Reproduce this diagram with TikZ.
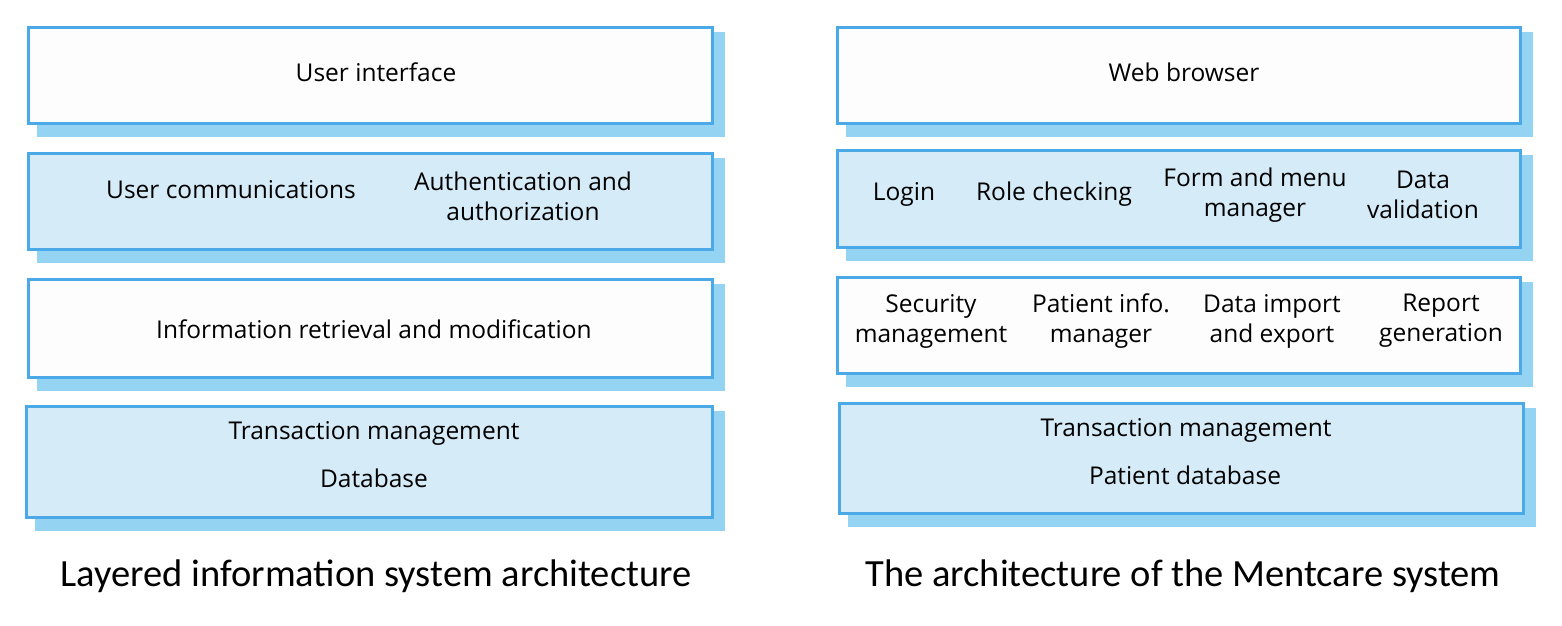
\documentclass[tikz,border=0pt]{standalone}
\usepackage{fontspec}
\setmainfont{Open Sans}
\newfontfamily\capfont{Carlito}
\usetikzlibrary{backgrounds}
\definecolor{bordc}{HTML}{4BA9E8}
\definecolor{shadc}{HTML}{94D3F1}
\definecolor{lightc}{HTML}{D5ECF8}
\definecolor{whitec}{HTML}{FDFDFD}
\tikzset{
  x=1bp, y=-1bp,
  layerbox/.style={draw=bordc, line width=2.6bp, anchor=north west, inner sep=0pt},
  wbox/.style={layerbox, fill=whitec},
  lbox/.style={layerbox, fill=lightc},
  lbl/.style={font=\fontsize{24.5bp}{30bp}\selectfont, align=center, inner sep=0pt, text=black},
  captext/.style={font=\capfont\fontsize{38.5bp}{44bp}\selectfont, inner sep=0pt, text=black},
  shadowfill/.style={fill=shadc},
}
\newcommand{\shadowof}[1]{\fill[shadowfill] ([xshift=10bp,yshift=-6bp]#1.north west) rectangle ([xshift=11bp,yshift=-12bp]#1.south east);}
\begin{document}
\begin{tikzpicture}
\useasboundingbox (0,0) rectangle (1562,626);
% left column boxes
\node[wbox, minimum width=684bp, minimum height=96bp] (ui) at (27,26) {};
\node[lbox, minimum width=684bp, minimum height=96bp] (uc) at (27,152) {};
\node[wbox, minimum width=684bp, minimum height=98bp] (ir) at (27,278) {};
\node[lbox, minimum width=686bp, minimum height=111bp] (tm) at (25,405) {};
% right column boxes
\node[wbox, minimum width=683bp, minimum height=96bp] (wb) at (836,26) {};
\node[lbox, minimum width=683bp, minimum height=97bp] (lg) at (836,149) {};
\node[wbox, minimum width=683bp, minimum height=96bp] (sm) at (836,276) {};
\node[lbox, minimum width=684bp, minimum height=110bp] (pd) at (838,402) {};
\begin{scope}[on background layer]
\shadowof{ui}\shadowof{uc}\shadowof{ir}\shadowof{tm}
\shadowof{wb}\shadowof{lg}\shadowof{sm}\shadowof{pd}
\end{scope}
% left labels
\node[lbl] (tui) at (376,72) {User interface};
\node[lbl] (tuc) at (231,190) {User communications};
\node[lbl] (tau) at (523,196) {Authentication and\\authorization};
\node[lbl] (tir) at (374,329) {Information retrieval and modification};
\node[lbl] (ttm) at (374,433) {Transaction management};
\node[lbl] (tdb) at (374,478) {Database};
% right labels
\node[lbl] (twb) at (1184,72) {Web browser};
\node[lbl] (tlo) at (904,194) {Login};
\node[lbl] (trc) at (1054,194) {Role checking};
\node[lbl] (tfm) at (1255,195) {Form and menu\\manager};
\node[lbl] (tdv) at (1423,195) {Data\\validation};
\node[lbl] (tsm) at (931,321) {Security\\management};
\node[lbl] (tpi) at (1101,321) {Patient info.\\manager};
\node[lbl] (tdi) at (1272,321) {Data import\\and export};
\node[lbl] (trg) at (1441,321) {Report\\generation};
\node[lbl] (ttm2) at (1186,430) {Transaction management};
\node[lbl] (tpd) at (1185,475) {Patient database};
% captions
\node[captext] (c1) at (376,576) {Layered information system architecture};
\node[captext] (c2) at (1183,576) {The architecture of the Mentcare system};
\end{tikzpicture}
\end{document}
